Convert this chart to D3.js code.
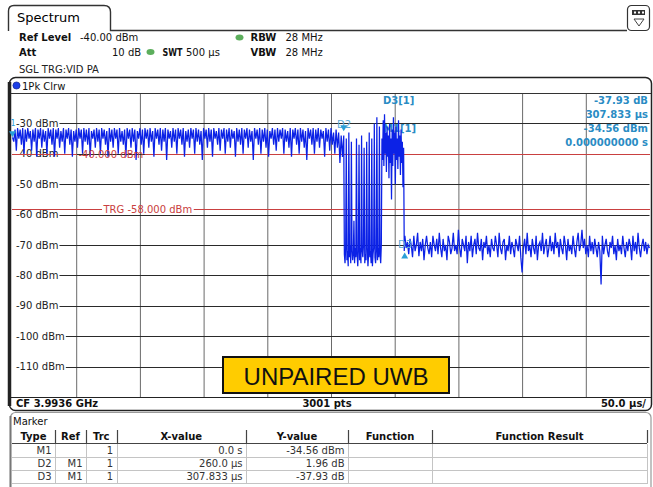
<!doctype html>
<html lang="en">
<head>
<meta charset="utf-8">
<title>Spectrum - Unpaired UWB</title>
<script src="https://d3js.org/d3.v7.min.js"></script>
<style>
body { margin: 0; background: #fff; }
text { font-family: "DejaVu Sans", Verdana, sans-serif; font-size: 10px; }
</style>
</head>
<body>
<svg width="653" height="487"></svg>
<script>
// ---- data ----
var levelTicks = [-30, -40, -50, -60, -70, -80, -90, -100, -110];
var timeTicks = [50, 100, 150, 200, 250, 300, 350, 400, 450];
var displayLine = -40;
var triggerLevel = -58;

// trace before the gap: t = 0..259 us, one point per us
var traceA = [
  -34.6, -36, -32, -39, -31.5, -35, -32, -37, -31.5, -40,
  -32, -36, -31.5, -35, -32.5, -39, -32, -36, -31.5, -41,
  -32, -35, -31.5, -38, -32, -36, -32.5, -40, -31.5, -35,
  -32, -37, -31.5, -41, -32, -35, -31.5, -38, -32.5, -36,
  -31.5, -40, -32, -35, -31.5, -37, -32, -41, -32.5, -36,
  -32, -38, -31.5, -35, -32, -40, -31.5, -36, -32, -37,
  -31.5, -41, -32.5, -35, -32, -38, -31.5, -36, -32, -40,
  -31.5, -35, -32, -37, -32.5, -41, -31.5, -36, -32, -38,
  -31.5, -35, -32, -40, -31.5, -36, -32.5, -37, -32, -41,
  -31.5, -35, -32, -38, -31.5, -36, -32, -42, -32.5, -35,
  -31.5, -37, -32, -40, -31.5, -35, -32, -38, -31.5, -36,
  -32.5, -41, -31.5, -35, -32, -37, -31.5, -39, -32, -36,
  -31.5, -42, -32, -35, -32.5, -38, -31.5, -36, -32, -40,
  -31.5, -35, -32, -37, -31.5, -41, -32.5, -36, -32, -38,
  -31.5, -35, -32, -40, -31.5, -36, -32, -37, -32.5, -42,
  -31.5, -35, -32, -38, -31.5, -36, -32, -41, -31.5, -35,
  -32.5, -37, -31.5, -39, -32, -35, -31.5, -40, -32, -36,
  -31.5, -38, -32, -35, -32.5, -41, -31.5, -36, -32, -37,
  -31.5, -40, -32, -35, -31.5, -38, -32, -36, -32.5, -42,
  -31.5, -35, -32, -37, -31.5, -40, -32, -36, -31.5, -38,
  -32, -41, -32.5, -35, -31.5, -37, -32, -39, -31.5, -36,
  -32, -35, -31.5, -40, -32, -36, -32.5, -38, -31.5, -41,
  -32, -35, -31.5, -37, -32, -40, -31.5, -36, -32, -38,
  -32.5, -42, -31.5, -35, -32, -37, -31.5, -40, -32, -36,
  -31.5, -38, -32, -35, -32.5, -41, -31.5, -36, -32, -39,
  -31.5, -37, -33, -40, -32, -38, -33, -43, -34, -41
];
// burst: t = 260..307.5 us, every 0.5 us
var traceB = [
  -34, -73, -76, -71,  -35, -75, -72, -77,  -33, -74, -70, -76,
  -36, -72, -75, -73,  -62, -76, -71, -74,  -35, -73, -77, -72,
  -37, -75, -71, -76,  -34, -72, -74, -70,  -38, -76, -73, -75,
  -36, -71, -77, -73,  -33, -74, -72, -76,  -35, -77, -73, -71,
  -30, -74, -76, -72,  -28, -75, -71, -74,  -31, -73, -76, -70,
  -35, -42, -29, -44, -27, -40, -33, -46, -31, -41, -34, -48,
  -30, -43, -35, -55, -32, -44, -28, -40, -33, -50, -31, -42,
  -35, -45, -29, -41, -34, -47, -32, -43, -36, -51, -38, -72
];
// noise after the burst: t = 308..500 us, one point per us
var traceC = [
  -67, -71, -69, -73, -68, -70, -74, -67, -72, -70,
  -66, -73.7, -69, -72, -68, -75, -70, -67, -71, -73,
  -69, -74, -67, -70, -72, -68, -73, -66, -71, -74,
  -68, -72, -70, -75, -67, -69, -73, -71, -66, -72,
  -70, -73, -65, -71, -74, -68, -70, -72, -67, -76,
  -69, -72, -67, -74, -70, -68, -73, -66, -71, -72,
  -68, -75, -69, -71, -67, -73, -70, -74, -68, -71,
  -72, -67, -70, -74, -66, -71, -73, -69, -68, -75,
  -70, -72, -67, -73, -69, -71, -74, -68, -70, -72,
  -67, -74, -79, -71, -68, -73, -66, -72, -70, -74,
  -68, -71, -73, -67, -75, -70, -69, -72, -66, -73,
  -70, -68, -74, -71, -67, -72, -69, -73, -66, -71,
  -69, -74, -68, -71, -73, -67, -70, -75, -68, -72,
  -70, -73, -67, -71, -74, -69, -66, -72, -70, -65,
  -71, -68, -73, -70, -74, -67, -72, -69, -73, -68,
  -71, -74, -69, -72, -83, -67, -73, -70, -68, -72,
  -74, -69, -71, -67, -73, -70, -75, -68, -72, -70,
  -73, -67, -71, -74, -69, -72, -68, -70, -75, -67,
  -72, -69, -73, -66, -71, -74, -70, -68, -72, -69,
  -73, -70, -71
];

var markerType = ['M1', 'D2', 'D3'];
var markerRef = ['', 'M1', 'M1'];
var markerTrc = ['1', '1', '1'];
var markerXText = ['0.0 s', '260.0 \u00b5s', '307.833 \u00b5s'];
var markerYText = ['-34.56 dBm', '1.96 dB', '-37.93 dB'];
var markerTime = [0, 260, 307.833];
var markerLevel = [-34.56, -32.60, -72.49];

var svg = d3.select('svg');
var x = d3.scaleLinear().domain([0, 500]).range([12.5, 649.5]);
var y = d3.scaleLinear().domain([-120, -20]).range([397, 93]);

var blue = '#2a8cc4';
var red = '#c94040';

// ---- header tab ----
svg.append('path')
  .attr('d', 'M8.5,31 L8.5,11 Q8.5,5.5 14,5.5 L104,5.5 Q110.5,5.5 110.5,12 L110.5,30.5 L627,30.5')
  .attr('fill', 'none').attr('stroke', '#333').attr('stroke-width', 1.4);
svg.append('text').attr('x', 17).attr('y', 22).style('font-size', '13px').text('Spectrum');
svg.append('rect').attr('x', 627.5).attr('y', 5.5).attr('width', 22).attr('height', 25).attr('rx', 4)
  .attr('fill', '#fff').attr('stroke', '#333').attr('stroke-width', 1.2);
svg.append('rect').attr('x', 632).attr('y', 10).attr('width', 13).attr('height', 5).attr('fill', '#333');
[634, 638, 642].forEach(function (d) {
  svg.append('rect').attr('x', d).attr('y', 11.5).attr('width', 2).attr('height', 2).attr('fill', '#fff');
});
svg.append('path').attr('d', 'M634,19 L644,19 L639,26 Z').attr('fill', 'none').attr('stroke', '#444');

// ---- settings text ----
function txt(px, py, s, opts) {
  opts = opts || {};
  var t = svg.append('text').attr('x', px).attr('y', py)
    .style('font-weight', opts.bold ? 'bold' : 'normal')
    .attr('fill', opts.fill || '#111')
    .attr('text-anchor', opts.anchor || 'start')
    .text(s);
  if (opts.len) t.attr('textLength', opts.len).attr('lengthAdjust', 'spacingAndGlyphs');
  return t;
}
txt(19, 41, 'Ref Level', {bold: true});
txt(80, 41, '-40.00 dBm');
txt(250.5, 41, 'RBW', {bold: true});
txt(285.5, 41, '28 MHz');
txt(19, 56, 'Att', {bold: true});
txt(112, 56, '10 dB');
txt(162.5, 56, 'SWT', {bold: true, len: 20});
txt(186, 56, '500 \u00b5s');
txt(250.5, 56, 'VBW', {bold: true});
txt(285.5, 56, '28 MHz');
txt(19, 73, 'SGL TRG:VID PA', {fill: '#222'});
[[239.5, 37.5], [150.5, 52]].forEach(function (p) {
  svg.append('ellipse').attr('cx', p[0]).attr('cy', p[1]).attr('rx', 4).attr('ry', 3)
    .attr('fill', '#5cae5c');
});

// ---- trace window frame ----
svg.append('rect').attr('x', 9.5).attr('y', 77.5).attr('width', 642).attr('height', 333).attr('rx', 6)
  .attr('fill', 'none').attr('stroke', '#222').attr('stroke-width', 1.5);
svg.append('line').attr('x1', 9.5).attr('x2', 9.5).attr('y1', 82).attr('y2', 406)
  .attr('stroke', '#222').attr('stroke-width', 3.5);
svg.append('circle').attr('cx', 16.5).attr('cy', 85.5).attr('r', 3.6)
  .attr('fill', '#1c3ee8').attr('stroke', '#0a1a80').attr('stroke-width', 0.6);
txt(22, 89.5, '1Pk Clrw');

// ---- grid ----
var gridG = svg.append('g');
gridG.append('g').attr('transform', 'translate(0,397)')
  .call(d3.axisBottom(x).tickValues(timeTicks).tickSize(-304).tickFormat(''))
  .call(function (g) {
    g.select('.domain').remove();
    g.selectAll('line').attr('stroke', '#6a6a6a');
  });
levelTicks.forEach(function (v) {
  var t = gridG.append('text').attr('x', 16).attr('y', y(v) + 3.5).attr('fill', '#222')
    .text(v + ' dBm');
  var w = t.node().getComputedTextLength();
  gridG.append('line').attr('x1', 16 + w + 1).attr('x2', 649.5)
    .attr('y1', Math.round(y(v)) + 0.5).attr('y2', Math.round(y(v)) + 0.5)
    .attr('stroke', '#2a2a2a');
});
svg.append('line').attr('x1', 11).attr('x2', 651).attr('y1', 93.5).attr('y2', 93.5).attr('stroke', '#333');
svg.append('line').attr('x1', 11).attr('x2', 651).attr('y1', 397.5).attr('y2', 397.5).attr('stroke', '#222');

// ---- display line and trigger line ----
var redLabels = [];
function redLine(level, label, gapStart) {
  var yy = Math.round(y(level)) + 0.5;
  var t = svg.append('text').attr('x', gapStart + 1.5).attr('y', yy + 3.5).attr('fill', red).text(label);
  var w = t.node().getComputedTextLength();
  svg.append('line').attr('x1', 12).attr('x2', gapStart).attr('y1', yy).attr('y2', yy).attr('stroke', red);
  svg.append('line').attr('x1', gapStart + w + 3).attr('x2', 650).attr('y1', yy).attr('y2', yy).attr('stroke', red);
  redLabels.push(t);
}
redLine(displayLine, '-40.000 dBm', 77);
redLine(triggerLevel, 'TRG  -58.000 dBm', 102);

// marker labels that the trace covers
txt(383, 132, 'M1[1]', {bold: true, fill: blue});
txt(337, 127.5, 'D2', {fill: '#5aa9d6'});

// ---- trace ----
var pts = [];
traceA.forEach(function (v, i) { pts.push([i, v]); });
traceB.forEach(function (v, i) { pts.push([260 + i * 0.5, v]); });
traceC.forEach(function (v, i) { pts.push([308 + i, v]); });
svg.append('path').datum(pts)
  .attr('fill', 'none').attr('stroke', '#0c22e6').attr('stroke-width', 1.25)
  .attr('d', d3.line().x(function (d) { return x(d[0]); }).y(function (d) { return y(d[1]); }));

// the display-line label stays readable on top of the trace
redLabels[0].raise();

// ---- markers ----
markerTime.forEach(function (t, i) {
  var mx = x(t), my = y(markerLevel[i]);
  var d = i === 2
    ? 'M' + mx + ',' + my + ' l-3.5,6 l7,0 Z'
    : 'M' + mx + ',' + my + ' l-3.5,-6 l7,0 Z';
  svg.append('path').attr('d', d).attr('fill', '#2a9fd8');
});
svg.append('text').attr('x', 10.5).attr('y', 126).attr('fill', '#2a9fd8').style('font-size', '8px').text('1');
txt(398, 248, 'D3', {fill: '#5aa9d6'});
txt(383, 104, 'D3[1]', {bold: true, fill: blue});
var info = ['-37.93 dB', '307.833 \u00b5s', '-34.56 dBm', '0.000000000 s'];
info.forEach(function (s, i) {
  txt(648, 104 + i * 14, s, {bold: true, fill: blue, anchor: 'end'});
});

// ---- label box ----
svg.append('rect').attr('x', 223).attr('y', 357).attr('width', 226).attr('height', 36)
  .attr('fill', '#ffcc00').attr('stroke', '#111').attr('stroke-width', 2);
svg.append('text').attr('x', 336).attr('y', 384.5).attr('text-anchor', 'middle')
  .style('font-family', '"Liberation Sans", Arial, sans-serif').style('font-size', '24px')
  .attr('fill', '#111').text('UNPAIRED UWB');

// ---- bottom status bar ----
txt(16, 407, 'CF 3.9936 GHz', {bold: true});
txt(327, 407, '3001 pts', {bold: true, anchor: 'middle'});
txt(646, 407, '50.0 \u00b5s/', {bold: true, anchor: 'end'});

// ---- marker table ----
svg.append('rect').attr('x', 10.5).attr('y', 412.5).attr('width', 640.5).attr('height', 80).attr('rx', 5)
  .attr('fill', '#fff').attr('stroke', '#9a9a9a').attr('stroke-width', 1.2);
svg.append('line').attr('x1', 10.5).attr('x2', 10.5).attr('y1', 416).attr('y2', 487)
  .attr('stroke', '#777').attr('stroke-width', 2);
txt(13, 424.5, 'Marker');

var colEdges = [12, 55, 86, 116.5, 246, 348, 432, 647];
var headers = ['Type', 'Ref', 'Trc', 'X-value', 'Y-value', 'Function', 'Function Result'];
headers.forEach(function (h, i) {
  txt((colEdges[i] + colEdges[i + 1]) / 2, 440, h, {bold: true, anchor: 'middle'});
});
svg.append('line').attr('x1', 12).attr('x2', 647).attr('y1', 443.5).attr('y2', 443.5)
  .attr('stroke', '#444').attr('stroke-width', 1.2);
colEdges.slice(1).forEach(function (cx) {
  var xx = Math.round(cx) + 0.5;
  svg.append('line').attr('x1', xx).attr('x2', xx).attr('y1', 430).attr('y2', 443)
    .attr('stroke', '#444').attr('stroke-width', 1.2);
  svg.append('line').attr('x1', xx).attr('x2', xx).attr('y1', 444).attr('y2', 484)
    .attr('stroke', '#c4c4c4');
});
[457.5, 470.5, 483.5].forEach(function (ry) {
  svg.append('line').attr('x1', 12).attr('x2', 647).attr('y1', ry).attr('y2', ry).attr('stroke', '#c4c4c4');
});
var cols = [markerType, markerRef, markerTrc, markerXText, markerYText];
cols.forEach(function (col, c) {
  col.forEach(function (s, r) {
    txt(colEdges[c + 1] - 3.5, 454 + r * 13, s, {fill: '#333', anchor: 'end'});
  });
});
</script>
</body>
</html>
